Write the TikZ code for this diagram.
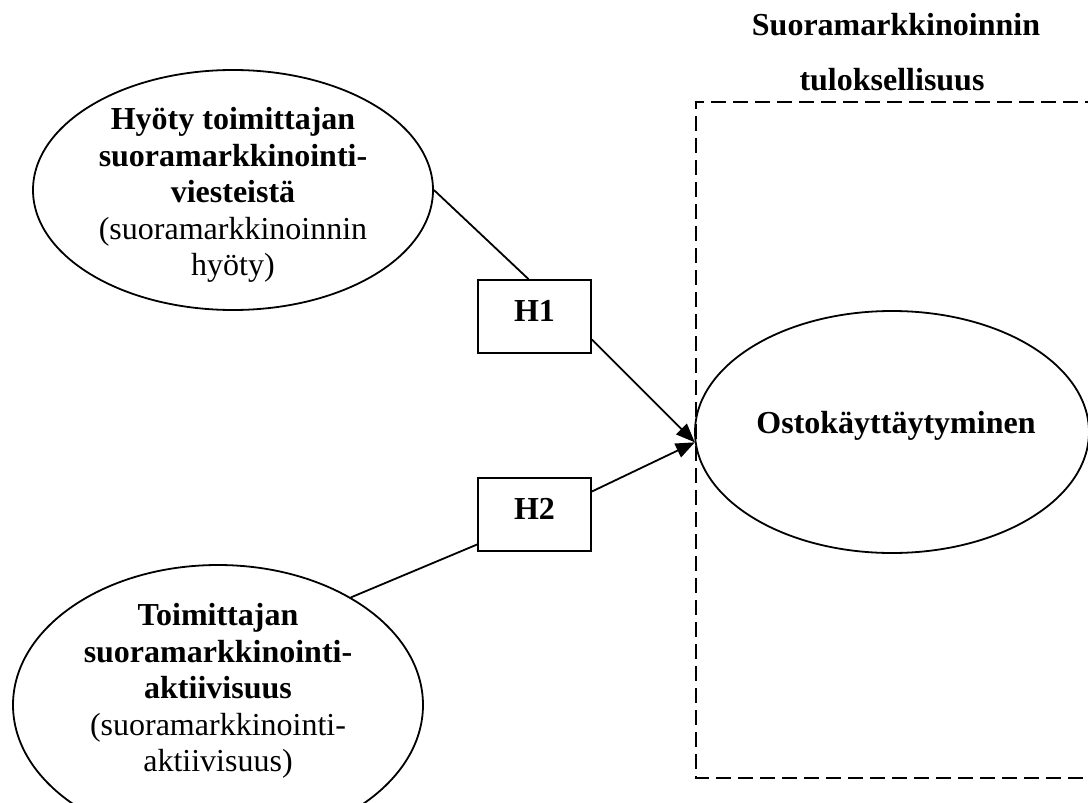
\documentclass[tikz,border=0pt]{standalone}
\usepackage{fontspec}
\setmainfont{Liberation Serif}
\usetikzlibrary{shapes.geometric,arrows.meta,calc}
\begin{document}
\begin{tikzpicture}[x=1pt,y=-1pt,
  every node/.style={font=\fontsize{32}{36.5}\selectfont},
  oval/.style={ellipse, draw, line width=1.8pt, inner sep=0pt},
  hbox/.style={rectangle, draw, line width=1.8pt, minimum width=113pt,
    minimum height=73pt, text depth=12pt, font=\fontsize{32}{36.5}\selectfont\bfseries},
  link/.style={line width=1.8pt},
  arrowlink/.style={link, -{Triangle[length=19pt,width=15pt]}},
  frame/.style={dash pattern=on 15pt off 7pt, line width=1.8pt},
  title/.style={anchor=base, font=\fontsize{32}{36.5}\selectfont\bfseries}
]
\useasboundingbox (0,0) rectangle (1088,803);
\fill[white] (0,0) rectangle (1088,803);

% heading over the dashed frame
\node[title] (t1) at (896,35) {Suoramarkkinoinnin};
\node[title] (t2) at (892,90) {tuloksellisuus};

% dashed frame around the outcome construct
\draw[frame] (1100,102) -- (696,102) -- (696,778) -- (1100,778);

% constructs
\node[oval, minimum width=400pt, minimum height=240pt,
  label={[align=center, yshift=-5pt]center:\textbf{Hyöty toimittajan}\\\textbf{suoramarkkinointi-}\\\textbf{viesteistä}\\(suoramarkkinoinnin\\hyöty)}]
  (benefit) at (233,190) {};
\node[oval, minimum width=410pt, minimum height=280pt,
  label={[align=center, yshift=14pt]center:\textbf{Toimittajan}\\\textbf{suoramarkkinointi-}\\\textbf{aktiivisuus}\\(suoramarkkinointi-\\aktiivisuus)}]
  (activity) at (218,705) {};
\node[oval, minimum width=394pt, minimum height=242pt,
  label={[xshift=4pt, yshift=6pt]center:\textbf{Ostokäyttäytyminen}}]
  (outcome) at (892,432) {};

% hypotheses
\node[hbox] (h1) at (534.5,316.5) {H1};
\node[hbox] (h2) at (534.5,514.5) {H2};

% paths
\draw[link] (benefit.east) -- ($(h1.north)+(-6,0)$);
\draw[arrowlink] ($(h1.east)+(0,23)$) -- (outcome.183);
\draw[link] (activity.39) -- ($(h2.west)+(0,30)$);
\draw[arrowlink] ($(h2.east)+(0,-23)$) -- (outcome.183);
\end{tikzpicture}
\end{document}
